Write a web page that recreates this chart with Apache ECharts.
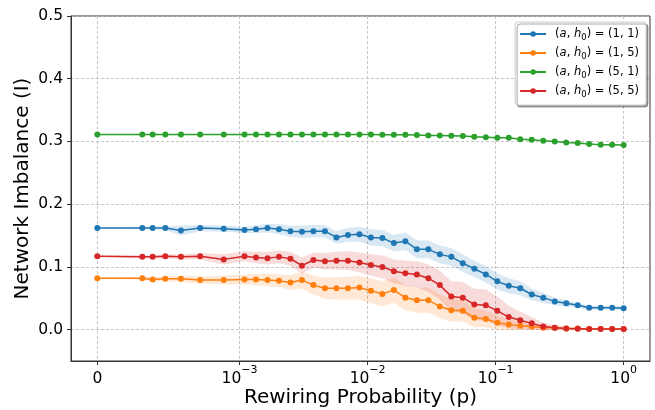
<!DOCTYPE html>
<html>
<head>
<meta charset="utf-8">
<script src="https://cdn.jsdelivr.net/npm/echarts@6/dist/echarts.min.js"></script>
<style>
  html, body { margin: 0; padding: 0; background: #fff; }
  #chart { width: 655px; height: 410px; }
</style>
</head>
<body>
<div id="chart"></div>
<script>
// Rewiring probabilities (0 followed by a log-spaced sweep up to 1)
const rewiringP = [0,
  3.162e-4, 3.888e-4, 4.781e-4, 5.878e-4, 7.227e-4, 8.886e-4,
  1.093e-3, 1.343e-3, 1.652e-3, 2.031e-3, 2.497e-3, 3.070e-3, 3.774e-3, 4.642e-3, 5.707e-3, 7.017e-3, 8.628e-3,
  1.061e-2, 1.304e-2, 1.604e-2, 1.972e-2, 2.424e-2, 2.981e-2, 3.665e-2, 4.506e-2, 5.540e-2, 6.813e-2, 8.377e-2,
  0.1030, 0.1266, 0.1557, 0.1914, 0.2354, 0.2894, 0.3559, 0.4376, 0.5380, 0.6615, 0.8134, 1.0];

// Mean network imbalance per parameter pair
const meanA1H1 = [0.162, 0.162, 0.162, 0.162, 0.158, 0.162,
  0.161, 0.159, 0.160, 0.162, 0.160, 0.157, 0.156, 0.157, 0.157, 0.147, 0.151, 0.152,
  0.147, 0.146, 0.138, 0.141, 0.128, 0.128, 0.120, 0.116, 0.106, 0.097, 0.088, 0.077,
  0.070, 0.066, 0.056, 0.051, 0.045, 0.042, 0.039, 0.035, 0.035, 0.035, 0.034];
const meanA1H5 = [0.082, 0.082, 0.080, 0.081, 0.081, 0.079,
  0.079, 0.080, 0.080, 0.079, 0.078, 0.075, 0.079, 0.071, 0.066, 0.066, 0.066, 0.067,
  0.062, 0.057, 0.063, 0.051, 0.047, 0.047, 0.037, 0.031, 0.030, 0.019, 0.017, 0.011,
  0.008, 0.006, 0.005, 0.003, 0.003, 0.002, 0.002, 0.001, 0.001, 0.001, 0.001];
const meanA5H1 = [0.311, 0.311, 0.311, 0.311, 0.311, 0.311,
  0.311, 0.311, 0.311, 0.311, 0.311, 0.311, 0.311, 0.311, 0.311, 0.311, 0.311, 0.311,
  0.311, 0.3106, 0.3106, 0.3106, 0.3101, 0.3095, 0.3095, 0.309, 0.3085, 0.3074, 0.3069, 0.3058,
  0.3058, 0.3037, 0.3026, 0.3011, 0.300, 0.2984, 0.2974, 0.2958, 0.2947, 0.2947, 0.2942];
const meanA5H5 = [0.117, 0.116, 0.116, 0.117, 0.116, 0.117,
  0.112, 0.117, 0.115, 0.114, 0.116, 0.113, 0.102, 0.111, 0.109, 0.110, 0.110, 0.107,
  0.103, 0.100, 0.093, 0.090, 0.088, 0.082, 0.071, 0.053, 0.051, 0.040, 0.039, 0.030,
  0.020, 0.015, 0.010, 0.005, 0.003, 0.002, 0.0015, 0.001, 0.001, 0.001, 0.001];

// Spread (half width of the shaded band) per parameter pair
const spreadA1H1 = [0.001, 0.002, 0.002, 0.003, 0.008, 0.005,
  0.005, 0.005, 0.006, 0.007, 0.008, 0.009, 0.010, 0.010, 0.010, 0.010, 0.011, 0.012,
  0.013, 0.013, 0.013, 0.014, 0.014, 0.014, 0.014, 0.014, 0.014, 0.013, 0.013, 0.013,
  0.012, 0.011, 0.009, 0.008, 0.006, 0.005, 0.004, 0.003, 0.003, 0.003, 0.003];
const spreadA1H5 = [0.001, 0.002, 0.004, 0.004, 0.005, 0.006,
  0.007, 0.008, 0.009, 0.010, 0.010, 0.012, 0.013, 0.015, 0.017, 0.018, 0.018, 0.019,
  0.020, 0.020, 0.020, 0.020, 0.020, 0.020, 0.019, 0.018, 0.017, 0.015, 0.013, 0.011,
  0.009, 0.007, 0.005, 0.004, 0.003, 0.002, 0.001, 0.001, 0.001, 0.001, 0.001];
const spreadA5H1 = [0.001, 0.001, 0.001, 0.001, 0.001, 0.001,
  0.001, 0.001, 0.001, 0.001, 0.001, 0.001, 0.001, 0.001, 0.001, 0.001, 0.001, 0.001,
  0.001, 0.001, 0.001, 0.001, 0.001, 0.001, 0.001, 0.001, 0.001, 0.001, 0.001, 0.001,
  0.001, 0.001, 0.001, 0.001, 0.001, 0.001, 0.001, 0.001, 0.001, 0.001, 0.001];
const spreadA5H5 = [0.001, 0.002, 0.003, 0.003, 0.004, 0.005,
  0.008, 0.008, 0.009, 0.010, 0.010, 0.011, 0.013, 0.012, 0.013, 0.014, 0.015, 0.016,
  0.017, 0.018, 0.019, 0.020, 0.021, 0.022, 0.023, 0.024, 0.025, 0.025, 0.025, 0.023,
  0.018, 0.014, 0.010, 0.006, 0.004, 0.003, 0.002, 0.001, 0.001, 0.001, 0.001];

const pairLabels = ['(1, 1)', '(1, 5)', '(5, 1)', '(5, 5)'];
const xTickValues = [0, 1e-3, 1e-2, 1e-1, 1];
const xTickExponents = ['', '−3', '−2', '−1', '0'];
const yTickValues = [0, 0.1, 0.2, 0.3, 0.4, 0.5];

const colors = ['#1f77b4', '#ff7f0e', '#2ca02c', '#d62728'];
const means = [meanA1H1, meanA1H5, meanA5H1, meanA5H5];
const spreads = [spreadA1H1, spreadA1H5, spreadA5H1, spreadA5H5];

// Symmetric log transform: linear below LIN_THRESH, log10 above
const LIN_THRESH = 1e-3;
const LIN_SCALE = 1 / (1 - 1 / 10);
function symlog(p) {
  const a = Math.abs(p);
  if (a <= LIN_THRESH) return p / LIN_THRESH * LIN_SCALE;
  return Math.sign(p) * (LIN_SCALE + Math.log10(a / LIN_THRESH));
}
const xMaxT = symlog(1);
const xPad = 0.05 * xMaxT;

const FONT = 'DejaVu Sans';
const series = [];
pairLabels.forEach((label, i) => {
  const m = means[i], s = spreads[i], c = colors[i];
  series.push({
    name: label + ' band',
    type: 'custom',
    silent: true,
    data: [[0, 0]],
    renderItem: (params, api) => {
      const upper = rewiringP.map((p, k) => api.coord([symlog(p), m[k] + s[k]]));
      const lower = rewiringP.map((p, k) => api.coord([symlog(p), m[k] - s[k]])).reverse();
      return {
        type: 'polygon',
        shape: { points: upper.concat(lower) },
        style: { fill: c, opacity: 0.17 }
      };
    }
  });
  series.push({
    name: label,
    type: 'line',
    data: rewiringP.map((p, k) => [symlog(p), m[k]]),
    symbol: 'circle',
    symbolSize: 6,
    showAllSymbol: true,
    lineStyle: { color: c, width: 1.5 },
    itemStyle: { color: c },
    emphasis: { disabled: true }
  });
});

const chart = echarts.init(document.getElementById('chart'), null, { renderer: 'canvas' });
chart.setOption({
  animation: false,
  backgroundColor: '#fff',
  grid: {
    left: 71, right: 5, top: 16, bottom: 49,
    outerBoundsMode: 'none',
    containLabel: false,
    show: true, borderColor: '#333', borderWidth: 1, backgroundColor: 'transparent'
  },
  xAxis: {
    type: 'value',
    min: -xPad,
    max: xMaxT + xPad,
    name: 'Rewiring Probability (p)',
    nameLocation: 'middle',
    nameGap: 27,
    nameMoveOverlap: false,
    nameTextStyle: { fontFamily: FONT, fontSize: 20, color: '#000' },
    axisLine: { show: true, onZero: false, lineStyle: { color: '#333', width: 1 } },
    axisTick: { show: true, length: 4, lineStyle: { color: '#333' }, customValues: xTickValues.map(symlog) },
    axisLabel: {
      customValues: xTickValues.map(symlog),
      margin: 4,
      formatter: (v) => {
        let idx = 0, best = Infinity;
        xTickValues.forEach((p, k) => { const d = Math.abs(symlog(p) - v); if (d < best) { best = d; idx = k; } });
        if (xTickValues[idx] === 0) return '{b|0}';
        return '{b|10}{p|' + xTickExponents[idx] + '}';
      },
      rich: {
        b: { fontFamily: FONT, fontSize: 15.5, color: '#000', lineHeight: 22, verticalAlign: 'bottom' },
        p: { fontFamily: FONT, fontSize: 11, color: '#000', lineHeight: 12, verticalAlign: 'top' }
      }
    },
    splitLine: { show: true, lineStyle: { color: '#b8b8b8', type: [3, 2], width: 0.8 } }
  },
  yAxis: {
    type: 'value',
    min: -0.05,
    max: 0.5,
    name: 'Network Imbalance (I)',
    nameLocation: 'middle',
    nameGap: 38,
    nameMoveOverlap: false,
    nameTextStyle: { fontFamily: FONT, fontSize: 20, color: '#000' },
    axisLine: { show: true, onZero: false, lineStyle: { color: '#333', width: 1 } },
    axisTick: { show: true, length: 4, lineStyle: { color: '#333' }, customValues: yTickValues },
    axisLabel: {
      customValues: yTickValues,
      margin: 8,
      fontFamily: FONT,
      fontSize: 15.5,
      color: '#000',
      formatter: (v) => v.toFixed(1)
    },
    splitLine: { show: true, lineStyle: { color: '#b8b8b8', type: [3, 2], width: 0.8 } }
  },
  legend: {
    data: pairLabels,
    orient: 'vertical',
    right: 9,
    top: 22,
    itemWidth: 26,
    itemHeight: 7,
    itemGap: 5,
    padding: [6, 7, 6, 4],
    backgroundColor: '#fff',
    borderColor: '#cccccc',
    borderWidth: 1,
    borderRadius: 3,
    shadowColor: 'rgba(0,0,0,0.35)',
    shadowOffsetX: 2,
    shadowOffsetY: 2,
    shadowBlur: 0,
    formatter: (name) => '{g|}{t|(}{i|a}{t|, }{i|h}{s|0}{t|) = ' + name + '}',
    textStyle: {
      fontFamily: FONT,
      fontSize: 11.5,
      color: '#000',
      rich: {
        g: { width: 4, lineHeight: 16 },
        t: { fontFamily: FONT, fontSize: 11.5, color: '#000', lineHeight: 16 },
        i: { fontFamily: FONT, fontSize: 11.5, fontStyle: 'italic', color: '#000', lineHeight: 16 },
        s: { fontFamily: FONT, fontSize: 8.5, color: '#000', lineHeight: 10, verticalAlign: 'bottom' }
      }
    }
  },
  series: series
});
</script>
</body>
</html>
